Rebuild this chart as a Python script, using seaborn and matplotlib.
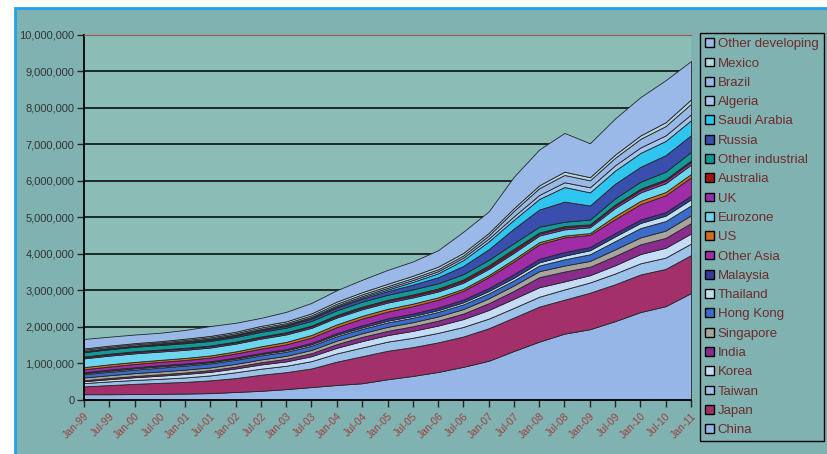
import pandas as pd
import seaborn as sns
import matplotlib.pyplot as plt
import matplotlib.dates as mdates
from matplotlib.patches import Patch, Rectangle
from matplotlib.ticker import FuncFormatter

# half-year points, Jan-99 .. Jan-11
dates = pd.date_range("1999-01-01", "2011-01-01", freq="6MS")

# foreign exchange reserves, USD bn, stacked bottom -> top
china = [150, 150, 155, 162, 168, 180, 212, 243, 290, 346, 403, 450, 560, 650, 760, 900, 1066, 1333, 1590, 1809, 1930, 2150, 2400, 2560, 2920]
japan = [215, 250, 280, 300, 320, 350, 380, 440, 465, 510, 640, 740, 780, 790, 810, 830, 890, 915, 960, 930, 1000, 1010, 1030, 1020, 1040]
taiwan = [90, 100, 106, 110, 122, 135, 160, 166, 175, 200, 225, 240, 250, 255, 260, 262, 265, 265, 270, 280, 280, 295, 305, 310, 315]
korea = [50, 62, 74, 85, 95, 98, 105, 115, 120, 135, 155, 175, 180, 190, 200, 215, 235, 250, 260, 220, 200, 225, 255, 270, 275]
india = [28, 32, 35, 38, 40, 45, 50, 60, 70, 82, 100, 115, 115, 125, 135, 150, 185, 215, 275, 270, 230, 255, 265, 270, 285]
singapore = [75, 76, 77, 78, 80, 76, 75, 78, 82, 90, 96, 100, 110, 112, 116, 125, 135, 150, 165, 165, 160, 180, 190, 200, 215]
hong_kong = [90, 92, 96, 105, 108, 110, 112, 112, 112, 115, 120, 118, 123, 122, 124, 128, 134, 138, 155, 170, 182, 225, 255, 260, 270]
thailand = [29, 31, 34, 33, 32, 32, 33, 34, 38, 40, 41, 41, 45, 46, 48, 55, 65, 72, 85, 100, 110, 130, 140, 150, 165]
malaysia = [25, 30, 31, 32, 28, 28, 30, 32, 34, 38, 45, 58, 65, 70, 70, 77, 82, 98, 100, 100, 90, 92, 95, 96, 105]
other_asia = [80, 85, 90, 92, 95, 100, 108, 118, 130, 145, 165, 185, 185, 200, 215, 240, 300, 350, 395, 400, 330, 380, 420, 460, 500]
us = [60, 60, 56, 55, 56, 57, 58, 63, 68, 72, 74, 75, 76, 70, 65, 55, 55, 60, 60, 50, 50, 85, 90, 90, 90]
eurozone = [240, 238, 235, 228, 222, 218, 214, 212, 205, 195, 188, 180, 170, 170, 160, 165, 170, 175, 180, 170, 160, 220, 230, 240, 255]
uk = [35, 36, 37, 38, 40, 38, 36, 38, 38, 38, 40, 40, 42, 42, 40, 44, 45, 50, 52, 50, 48, 60, 65, 70, 78]
australia = [15, 17, 19, 17, 16, 17, 18, 20, 22, 24, 28, 32, 34, 38, 42, 46, 52, 58, 30, 40, 32, 35, 38, 38, 40]
other_industrial = [120, 122, 124, 124, 125, 125, 126, 126, 125, 127, 132, 134, 138, 140, 142, 145, 150, 155, 160, 120, 130, 170, 190, 210, 230]
russia = [12, 12, 12, 16, 25, 32, 34, 40, 45, 60, 73, 83, 100, 130, 165, 225, 290, 400, 470, 550, 385, 400, 410, 450, 460]
saudi_arabia = [15, 15, 16, 18, 20, 20, 18, 19, 20, 22, 25, 32, 45, 75, 110, 160, 215, 240, 290, 400, 360, 360, 380, 390, 410]
algeria = [7, 6, 6, 9, 12, 14, 18, 20, 23, 28, 33, 38, 43, 50, 57, 66, 78, 95, 110, 130, 140, 145, 150, 152, 160]
brazil = [36, 33, 35, 30, 33, 35, 35, 40, 37, 44, 48, 49, 50, 55, 55, 60, 85, 150, 185, 200, 190, 205, 235, 255, 290]
mexico = [31, 33, 31, 32, 34, 37, 40, 44, 48, 53, 58, 59, 63, 63, 70, 70, 68, 73, 79, 90, 85, 88, 93, 105, 120]
other_developing = [260, 245, 235, 230, 240, 270, 245, 220, 260, 286, 311, 340, 380, 390, 450, 580, 590, 860, 980, 1060, 930, 990, 1050, 1150, 1050]

names = ["China", "Japan", "Taiwan", "Korea", "India", "Singapore", "Hong Kong",
         "Thailand", "Malaysia", "Other Asia", "US", "Eurozone", "UK", "Australia",
         "Other industrial", "Russia", "Saudi Arabia", "Algeria", "Brazil", "Mexico",
         "Other developing"]
values = [china, japan, taiwan, korea, india, singapore, hong_kong, thailand, malaysia,
          other_asia, us, eurozone, uk, australia, other_industrial, russia, saudi_arabia,
          algeria, brazil, mexico, other_developing]
colors = ["#96b6e8", "#a3306a", "#9cc2ea", "#c6dcf6", "#8a2c8c", "#a6a49c", "#3a6ccc",
          "#bfe0ee", "#38389a", "#a02ca8", "#d06c1c", "#6cd6ee", "#9c2cae", "#a01414",
          "#129a9a", "#3a4eae", "#2ec6f0", "#a6c6f0", "#98b8e8", "#b4d6e0", "#9ab8e8"]

FIG_BG = "#80b2b2"
PLOT_BG = "#8bbdb6"

df = pd.DataFrame(dict(zip(names, values)), index=dates)
df = df * 1000  # chart axis is in USD mn

sns.set_style("white")
plt.rcParams["font.family"] = ["Liberation Sans", "DejaVu Sans"]

fig = plt.figure(figsize=(8.28, 4.54), dpi=100)
fig.patch.set_facecolor("white")
# teal panel with the blue frame on the left and top
fig.add_artist(Rectangle((15 / 828, -0.02), 1.0, 1 - 8 / 454 + 0.02,
                         transform=fig.transFigure, facecolor=FIG_BG,
                         edgecolor="#1fa3e8", lw=2, zorder=0))

ax = fig.add_axes([84 / 828, 54.3 / 454, 607 / 828, 365.2 / 454])
ax.set_facecolor(PLOT_BG)
ax.set_axisbelow(True)
ax.yaxis.grid(True, color="black", lw=1.1)

x = mdates.date2num(df.index.to_pydatetime())
ax.stackplot(x, [df[n].values for n in names], colors=colors,
             edgecolor="#262626", linewidth=0.6, zorder=2)

ax.set_xlim(x[0], x[-1])
ax.set_ylim(0, 10_000_000)
ax.set_yticks(range(0, 10_000_001, 1_000_000))
ax.yaxis.set_major_formatter(FuncFormatter(lambda v, p: f"{int(v):,}"))
ax.set_xticks(x)
ax.set_xticklabels([d.strftime("%b-%y") for d in df.index], rotation=45,
                   ha="right", rotation_mode="anchor")

for side in ["left", "bottom"]:
    ax.spines[side].set_color("black")
    ax.spines[side].set_linewidth(1.3)
ax.spines["right"].set_visible(False)
ax.spines["top"].set_color("#a0574e")
ax.spines["top"].set_linewidth(0.8)

ax.tick_params(axis="y", length=5, width=1, direction="out", labelsize=8,
               labelcolor="#333333", pad=2, left=True)
ax.tick_params(axis="x", length=5, width=1, direction="out", labelsize=7.5,
               labelcolor="#a04040", pad=3, bottom=True)

handles = [Patch(facecolor=c, edgecolor="black", lw=1) for c in colors][::-1]
leg = fig.legend(handles, names[::-1], loc="upper left",
                 bbox_to_anchor=(700 / 828, 1 - 33 / 454), frameon=True,
                 fancybox=False, edgecolor="black", facecolor=FIG_BG, framealpha=1,
                 fontsize=9.5, handlelength=0.65, handleheight=0.65,
                 handletextpad=0.3, labelspacing=0.55, borderpad=0.4,
                 borderaxespad=0)
leg.get_frame().set_linewidth(1)
for t in leg.get_texts():
    t.set_color("#6e2c2c")

fig.savefig("out.png", dpi=100, facecolor=fig.get_facecolor())
